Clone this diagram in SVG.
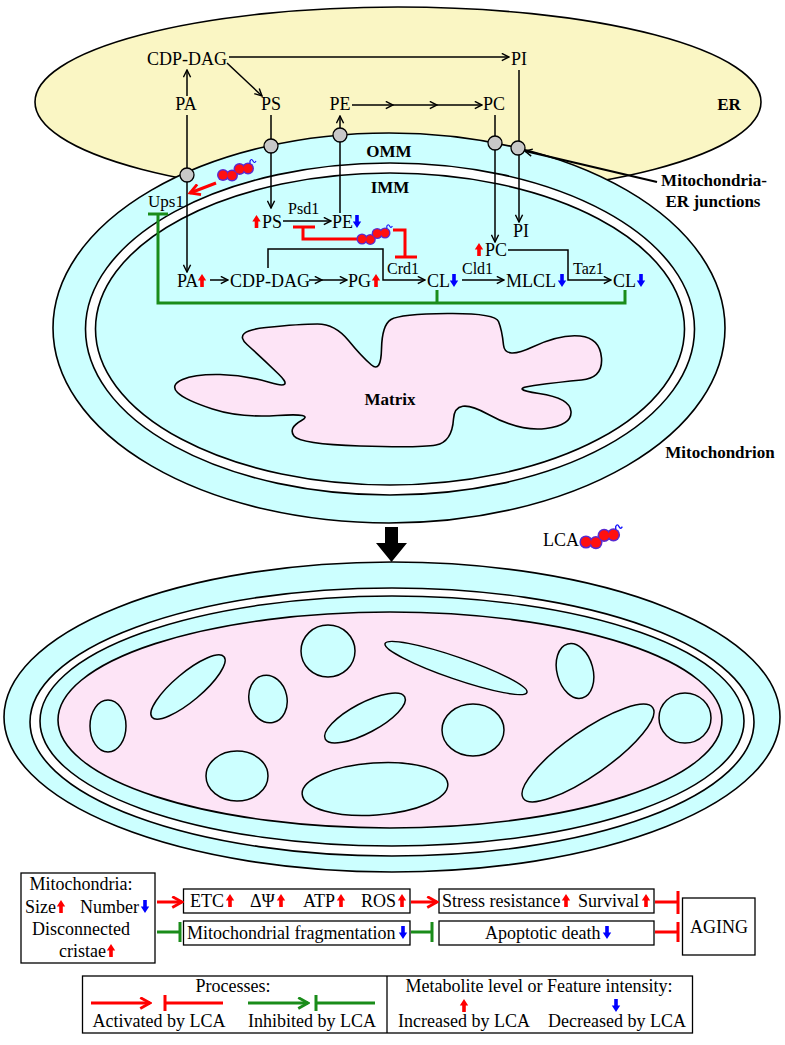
<svg xmlns="http://www.w3.org/2000/svg" width="785" height="1045" viewBox="0 0 785 1045">
<defs>
<style>
text{font-family:"Liberation Serif","Times New Roman",serif;fill:#000}
.t{font-size:18px}
.s{font-size:16px}
.b{font-size:17px;font-weight:bold}
.m{text-anchor:middle}
.bx{fill:#fff;stroke:#000;stroke-width:1.3}
.ln{fill:none;stroke:#000;stroke-width:1.5}
.rd{fill:none;stroke:#f00;stroke-width:3}
.gr{fill:none;stroke:#1a8c1a;stroke-width:3}
.mem{stroke:#000;stroke-width:1.6}
.cy{fill:#ccffff}
.cr{fill:#ccffff;stroke:#000;stroke-width:1.5}
.jn{fill:#c8c8c8;stroke:#000;stroke-width:1.3}
.up{fill:#f00}
.dn{fill:#00f}
</style>
<marker id="ab" viewBox="0 0 10 10" refX="9" refY="5" markerWidth="9" markerHeight="9" markerUnits="userSpaceOnUse" orient="auto"><path d="M1,1 L9,5 L1,9" fill="none" stroke="#000" stroke-width="1.6"/></marker>
<marker id="ar" viewBox="0 0 12 12" refX="10" refY="6" markerWidth="13" markerHeight="13" markerUnits="userSpaceOnUse" orient="auto"><path d="M1,1 L10,6 L1,11" fill="none" stroke="#f00" stroke-width="2.6"/></marker>
<marker id="ag" viewBox="0 0 12 12" refX="10" refY="6" markerWidth="13" markerHeight="13" markerUnits="userSpaceOnUse" orient="auto"><path d="M1,1 L10,6 L1,11" fill="none" stroke="#1a8c1a" stroke-width="2.6"/></marker>
<path id="u" d="M-1.8,0 H1.8 V-6.5 H4.2 L0,-13 L-4.2,-6.5 H-1.8 Z"/>
<path id="d" d="M-1.8,-13 H1.8 V-6.5 H4.2 L0,0 L-4.2,-6.5 H-1.8 Z"/>
<g id="lca">
<g fill="#5a2bd0"><circle cx="0" cy="0" r="6"/><circle cx="9" cy="0.5" r="6"/><circle cx="16.5" cy="-6" r="6"/><circle cx="25" cy="-6.5" r="6"/></g>
<g fill="#ff1010"><circle cx="0" cy="0" r="4.6"/><circle cx="9" cy="0.5" r="4.6"/><circle cx="16.5" cy="-6" r="4.6"/><circle cx="25" cy="-6.5" r="4.6"/></g>
<path d="M27,-11.5 V-14 q1.5,-3 3,0 t3,0" fill="none" stroke="#1010ff" stroke-width="1.2"/>
</g>
</defs>
<rect width="785" height="1045" fill="#fff"/>

<!-- ER -->
<g id="er">
<ellipse cx="398" cy="102" rx="363" ry="95" fill="#faf6c4" stroke="#000" stroke-width="1.6"/>
</g>

<!-- top mitochondrion -->
<g id="mitochondrion-top">
<ellipse cx="389" cy="328" rx="336" ry="195" class="cy mem"/>
<ellipse cx="390" cy="329" rx="304.5" ry="166" fill="#fff" class="mem"/>
<ellipse cx="390" cy="329" rx="294.5" ry="156" class="cy mem"/>
<path id="matrix-shape" fill="#fde4f6" class="mem" d="M177.5,392.5 Q170,385 182.5,379.5 Q195,374 220,374.5 Q245,375 270,382.5 Q295,390 278.5,374 Q262,358 247,344.5 Q232,331 266,327.5 Q300,324 317.5,324 Q335,324 348.5,340.5 Q362,357 371.5,365 Q381,373 381.5,349 Q382,325 391,319.5 Q400,314 447.5,313.5 Q495,313 498.5,321.5 Q502,330 503.5,345 Q505,360 532.5,347 Q560,334 580,336 Q600,338 601.5,358 Q603,378 581.5,380 Q560,382 534,385.5 Q508,389 539,393.5 Q570,398 571,411.5 Q572,425 546,428.5 Q520,432 487.5,414 Q455,396 453.5,419 Q452,442 436,445 Q420,448 360,446 Q300,444 294,436 Q288,428 301.5,420.5 Q315,413 277.5,415.5 Q240,418 212.5,409 Q185,400 177.5,392.5 Z"/>
</g>

<!-- bottom mitochondrion -->
<g id="mitochondrion-bottom">
<ellipse cx="392" cy="717" rx="388" ry="155" class="cy mem"/>
<ellipse cx="392" cy="722" rx="362" ry="134" fill="#fff" class="mem"/>
<ellipse cx="392" cy="721" rx="352" ry="125" class="cy mem"/>
<ellipse cx="390" cy="720" rx="332" ry="108" fill="#fde4f6" class="mem"/>
<ellipse class="cr" cx="108" cy="726" rx="18" ry="26"/>
<ellipse class="cr" cx="188" cy="687" rx="47" ry="14" transform="rotate(-40 188 687)"/>
<ellipse class="cr" cx="268" cy="699" rx="19" ry="24" transform="rotate(-12 268 699)"/>
<ellipse class="cr" cx="328" cy="651" rx="27" ry="26"/>
<ellipse class="cr" cx="456" cy="668" rx="75" ry="11" transform="rotate(19 456 668)"/>
<ellipse class="cr" cx="575" cy="671" rx="18" ry="28" transform="rotate(-15 575 671)"/>
<ellipse class="cr" cx="365" cy="718" rx="45" ry="15" transform="rotate(-28 365 718)"/>
<ellipse class="cr" cx="473" cy="730" rx="31" ry="26"/>
<ellipse class="cr" cx="685" cy="718" rx="26" ry="25"/>
<ellipse class="cr" cx="588" cy="753" rx="79" ry="22" transform="rotate(-35 588 753)"/>
<ellipse class="cr" cx="237" cy="776" rx="31" ry="25"/>
<ellipse class="cr" cx="375" cy="789" rx="73" ry="26" transform="rotate(-4 375 789)"/>
</g>

<!-- big arrow -->
<g id="big-arrow"><polygon points="385,527 398,527 398,543 407,543 391.5,562 376,543 385,543" fill="#000"/></g>

<!-- bottom boxes -->
<g id="b-mito">
<rect class="bx" x="21" y="873" width="134" height="90"/>
<text class="t m" x="81" y="890">Mitochondria:</text>
<text class="t" x="25" y="913">Size</text><use href="#u" class="up" x="61" y="913"/>
<text class="t" x="80" y="913">Number</text><use href="#d" class="dn" x="145" y="913"/>
<text class="t m" x="81" y="935">Disconnected</text>
<text class="t" x="59" y="957">cristae</text><use href="#u" class="up" x="111" y="957"/>
</g>
<g id="b-etc">
<rect class="bx" x="183.5" y="889" width="226.5" height="24"/>
<text class="t" x="190" y="907">ETC</text><use href="#u" class="up" x="230" y="907"/>
<text class="t" x="250" y="907">ΔΨ</text><use href="#u" class="up" x="281" y="907"/>
<text class="t" x="303" y="907">ATP</text><use href="#u" class="up" x="341" y="907"/>
<text class="t" x="361" y="907">ROS</text><use href="#u" class="up" x="402" y="907"/>
</g>
<g id="b-stress">
<rect class="bx" x="439" y="889" width="215" height="24"/>
<text class="t" x="442" y="907">Stress resistance</text><use href="#u" class="up" x="566" y="907"/>
<text class="t" x="578" y="907">Survival</text><use href="#u" class="up" x="646" y="907"/>
</g>
<g id="b-aging">
<rect class="bx" x="682.5" y="898" width="72.5" height="57"/>
<text class="t m" x="719" y="933">AGING</text>
</g>
<g id="b-frag">
<rect class="bx" x="183.5" y="921" width="226.5" height="24"/>
<text class="t" x="187" y="939">Mitochondrial fragmentation</text><use href="#d" class="dn" x="403" y="939"/>
</g>
<g id="b-apop">
<rect class="bx" x="439" y="921" width="215" height="24"/>
<text class="t" x="485" y="939">Apoptotic death</text><use href="#d" class="dn" x="607" y="939"/>
</g>

<!-- legend -->
<g id="legend">
<rect class="bx" x="82.5" y="976" width="610" height="57"/>
<line x1="387" y1="976" x2="387" y2="1033" stroke="#000" stroke-width="1.3"/>
<text class="t m" x="233" y="992">Processes:</text>
<text class="t m" x="159" y="1027">Activated by LCA</text>
<text class="t m" x="312" y="1027">Inhibited by LCA</text>
<text class="t m" x="539" y="992">Metabolite level or Feature intensity:</text>
<use href="#u" class="up" x="464" y="1012"/>
<use href="#d" class="dn" x="616" y="1012"/>
<text class="t m" x="464" y="1027">Increased by LCA</text>
<text class="t m" x="617" y="1027">Decreased by LCA</text>
</g>

<!-- connectors -->
<g id="connectors">
<g class="ln">
<path d="M229,57 H509" marker-end="url(#ab)"/>
<path d="M227,63 L262,96" marker-end="url(#ab)"/>
<path d="M187,96 V70" marker-end="url(#ab)"/>
<path d="M187,115 V272" marker-end="url(#ab)"/>
<path d="M271,115 V208" marker-end="url(#ab)"/>
<path d="M340,213 V116" marker-end="url(#ab)"/>
<path d="M352,105 H393" marker-end="url(#ab)"/>
<path d="M393,105 H437" marker-end="url(#ab)"/>
<path d="M437,105 H482" marker-end="url(#ab)"/>
<path d="M495,115 V242" marker-end="url(#ab)"/>
<path d="M519,70 V222" marker-end="url(#ab)"/>
<path d="M657,182 L525,151" stroke-width="2.2" marker-end="url(#ab)"/>
<path d="M283,221 H331" marker-end="url(#ab)"/>
<path d="M210,280 H228" marker-end="url(#ab)"/>
<path d="M309,280 H322" marker-end="url(#ab)"/>
<path d="M322,280 H347" marker-end="url(#ab)"/>
<path d="M268,268 V249 H383 V280 H425" marker-end="url(#ab)"/>
<path d="M462,280 H504" marker-end="url(#ab)"/>
<path d="M508,250 H568 V280 H611" marker-end="url(#ab)"/>
</g>
<g class="rd">
<path d="M216,183 L190,193" marker-end="url(#ar)"/>
<path d="M357,239 H303 V227"/>
<path d="M293,227 H315"/>
<path d="M393,230 H405 V257"/>
<path d="M395,257 H417"/>
</g>
<g class="gr">
<path d="M148,214 H168"/>
<path d="M158,214 V303 H625 V290"/>
<path d="M437,303 V290"/>
</g>
<g class="rd">
<path d="M157,902 H182" marker-end="url(#ar)"/>
<path d="M411,902 H437" marker-end="url(#ar)"/>
<path d="M655,902 H678 M678,891 V914"/>
<path d="M655,932 H678 M678,922 V942"/>
<path d="M91,1003 H150" marker-end="url(#ar)"/>
<path d="M165,1003 H223 M165,995 V1011"/>
</g>
<g class="gr">
<path d="M157,932 H180 M180,922 V942"/>
<path d="M411,932 H432 M432,922 V942"/>
<path d="M248,1003 H308" marker-end="url(#ag)"/>
<path d="M316,1003 H375 M316,995 V1011"/>
</g>
</g>

<!-- junction circles -->
<g id="junctions">
<circle class="jn" cx="187" cy="175" r="7"/>
<circle class="jn" cx="271" cy="146" r="7"/>
<circle class="jn" cx="340" cy="135" r="7"/>
<circle class="jn" cx="495" cy="143" r="7"/>
<circle class="jn" cx="518" cy="148" r="7"/>
</g>

<!-- LCA icons -->
<g id="lca-icons">
<use href="#lca" x="223" y="175"/>
<use href="#lca" transform="translate(362,239) scale(0.92)"/>
<use href="#lca" transform="translate(586,542) scale(1.1)"/>
</g>

<!-- labels -->
<g id="n-er-cdpdag"><text class="t m" x="187" y="65">CDP-DAG</text></g>
<g id="n-er-pi"><text class="t" x="511" y="65">PI</text></g>
<g id="n-er-pa"><text class="t m" x="186" y="110">PA</text></g>
<g id="n-er-ps"><text class="t m" x="271" y="110">PS</text></g>
<g id="n-er-pe"><text class="t m" x="340" y="110">PE</text></g>
<g id="n-er-pc"><text class="t m" x="494" y="110">PC</text></g>
<g id="l-er"><text class="b m" x="729" y="110">ER</text></g>
<g id="l-omm"><text class="b m" x="389" y="157">OMM</text></g>
<g id="l-imm"><text class="b m" x="390" y="193">IMM</text></g>
<g id="l-junctions"><text class="b m" x="714" y="186">Mitochondria-</text><text class="b m" x="713" y="207">ER junctions</text></g>
<g id="l-mitochondrion"><text class="b m" x="720" y="458">Mitochondrion</text></g>
<g id="l-matrix"><text class="b m" x="390" y="405">Matrix</text></g>
<g id="l-lca"><text class="t" x="543" y="546">LCA</text></g>

<g id="n-ups1"><text class="t" x="148" y="207" style="font-size:17px">Ups1</text></g>
<g id="n-ps"><use href="#u" class="up" x="256.5" y="228"/><text class="t" x="262" y="228">PS</text></g>
<g id="n-psd1"><text class="s" x="288" y="214">Psd1</text></g>
<g id="n-pe"><text class="t" x="332" y="228">PE</text><use href="#d" class="dn" x="357" y="228"/></g>
<g id="n-pa"><text class="t" x="177" y="287">PA</text><use href="#u" class="up" x="202" y="287"/></g>
<g id="n-cdpdag"><text class="t" x="230" y="287">CDP-DAG</text></g>
<g id="n-pg"><text class="t" x="348" y="287">PG</text><use href="#u" class="up" x="376" y="287"/></g>
<g id="n-crd1"><text class="s" x="387" y="274">Crd1</text></g>
<g id="n-cl1"><text class="t" x="427" y="287">CL</text><use href="#d" class="dn" x="454" y="287"/></g>
<g id="n-cld1"><text class="s" x="462" y="274">Cld1</text></g>
<g id="n-mlcl"><text class="t" x="506" y="287">MLCL</text><use href="#d" class="dn" x="562" y="287"/></g>
<g id="n-taz1"><text class="s" x="573" y="274">Taz1</text></g>
<g id="n-cl2"><text class="t" x="613" y="287">CL</text><use href="#d" class="dn" x="641" y="287"/></g>
<g id="n-pc"><use href="#u" class="up" x="479" y="256"/><text class="t" x="485" y="256">PC</text></g>
<g id="n-pi"><text class="t" x="513" y="237">PI</text></g>
</svg>
